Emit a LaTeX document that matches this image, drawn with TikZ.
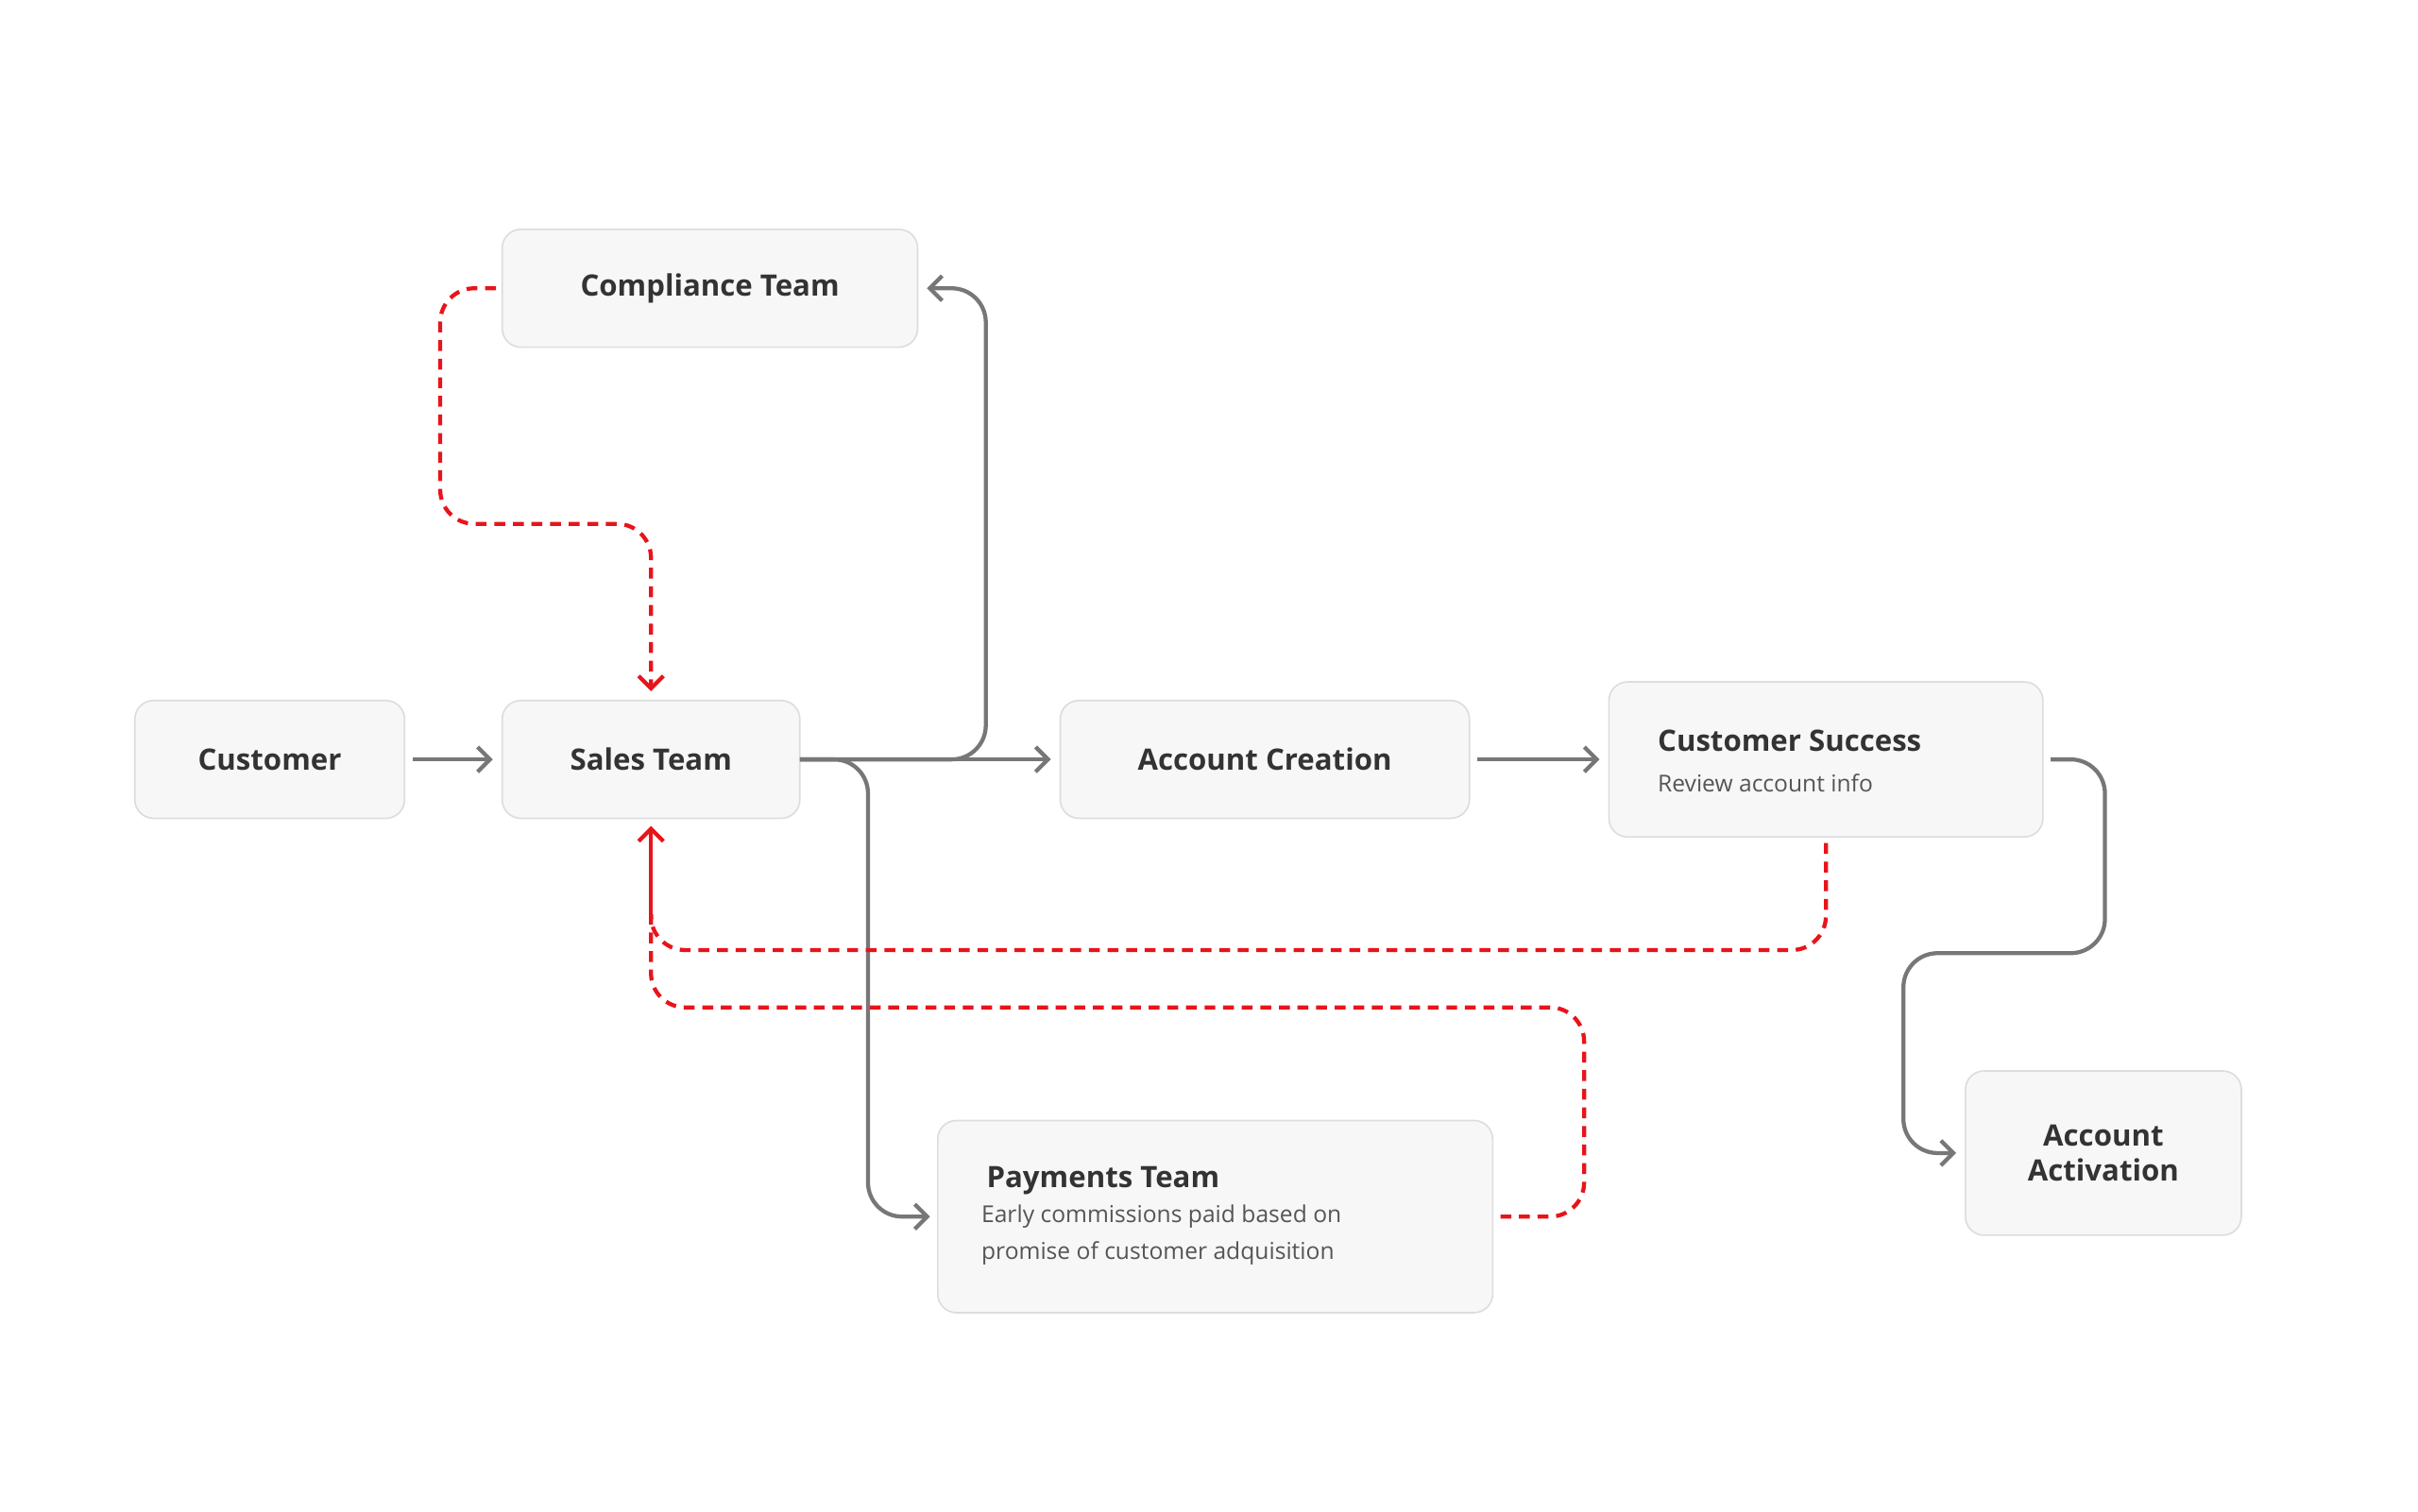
\documentclass[tikz,border=0pt]{standalone}
\usepackage{fontspec}
\setmainfont{Open Sans}
\usetikzlibrary{arrows.meta}
\definecolor{nodefill}{HTML}{F7F7F7}
\definecolor{nodeline}{HTML}{DDDDDD}
\definecolor{edge}{HTML}{777777}
\definecolor{redd}{HTML}{E8141B}
\definecolor{txt}{HTML}{333333}
\definecolor{sub}{HTML}{555555}
\begin{document}
\begin{tikzpicture}[x=1pt,y=-1pt,
 box/.style={draw=nodeline,line width=1pt,fill=nodefill,rounded corners=12pt,inner sep=0pt},
 ttl/.style={font=\fontsize{19}{22}\selectfont\bfseries,text=txt},
 gr/.style={draw=edge,line width=2.6pt,rounded corners=22pt,-{Straight Barb[length=8pt,width=16pt,line width=2.6pt]}},
 rd/.style={draw=redd,line width=2.6pt,dash pattern=on 7pt off 5pt,rounded corners=22pt,-{Straight Barb[length=8pt,width=16pt,line width=2.6pt]}}]
\useasboundingbox (0,0) rectangle (1560,975);
\fill[white] (0,0) rectangle (1560,975);
\draw[box] (324,148) rectangle (592,224); \node[ttl] (comp) at (458,186) {Compliance Team};
\draw[box] (87,452) rectangle (261,528); \node[ttl] (cust) at (174,490) {Customer};
\draw[box] (324,452) rectangle (516,528); \node[ttl] (sales) at (420,490) {Sales Team};
\draw[box] (684,452) rectangle (948,528); \node[ttl] (acc) at (816,490) {Account Creation};
\draw[box] (1038,440) rectangle (1318,540);
\node[ttl,anchor=west] (cs) at (1066,478) {Customer Success};
\node[anchor=west,font=\fontsize{15}{18}\selectfont,text=sub] (csd) at (1066,505) {Review account info};
\draw[box] (605,723) rectangle (963,847);
\node[ttl,anchor=west] (pay) at (633,762) {Payments Team};
\node[anchor=north west,align=left,font=\fontsize{15}{24}\selectfont,text=sub,inner sep=0pt] (payd) at (633,777) {Early commissions paid based on\\promise of customer adquisition};
\draw[box] (1268,691) rectangle (1446,797);
\node[ttl,align=center] (act) at (1357,744) {Account\\Activation};
\coordinate (sE) at (516,490);
\draw[gr] (266,490) -- (318,490);
\draw[gr] (sE) -- (678,490);
\draw[gr] (sE) -- (636,490) -- (636,186) -- (598,186);
\draw[gr] (sE) -- (560,490) -- (560,785) -- (600,785);
\draw[gr] (953,490) -- (1032,490);
\draw[gr] (1323,490) -- (1358,490) -- (1358,615) -- (1228,615) -- (1228,744) -- (1262,744);
\draw[rd] (320,186) -- (284,186) -- (284,338) -- (420,338) -- (420,446);
\draw[rd,-] (1178,544) -- (1178,613) -- (420,613) -- (420,590);
\draw[rd,-] (968,785) -- (1022,785) -- (1022,650) -- (420,650) -- (420,590);
\draw[rd,solid] (420,592) -- (420,533);
\end{tikzpicture}
\end{document}
